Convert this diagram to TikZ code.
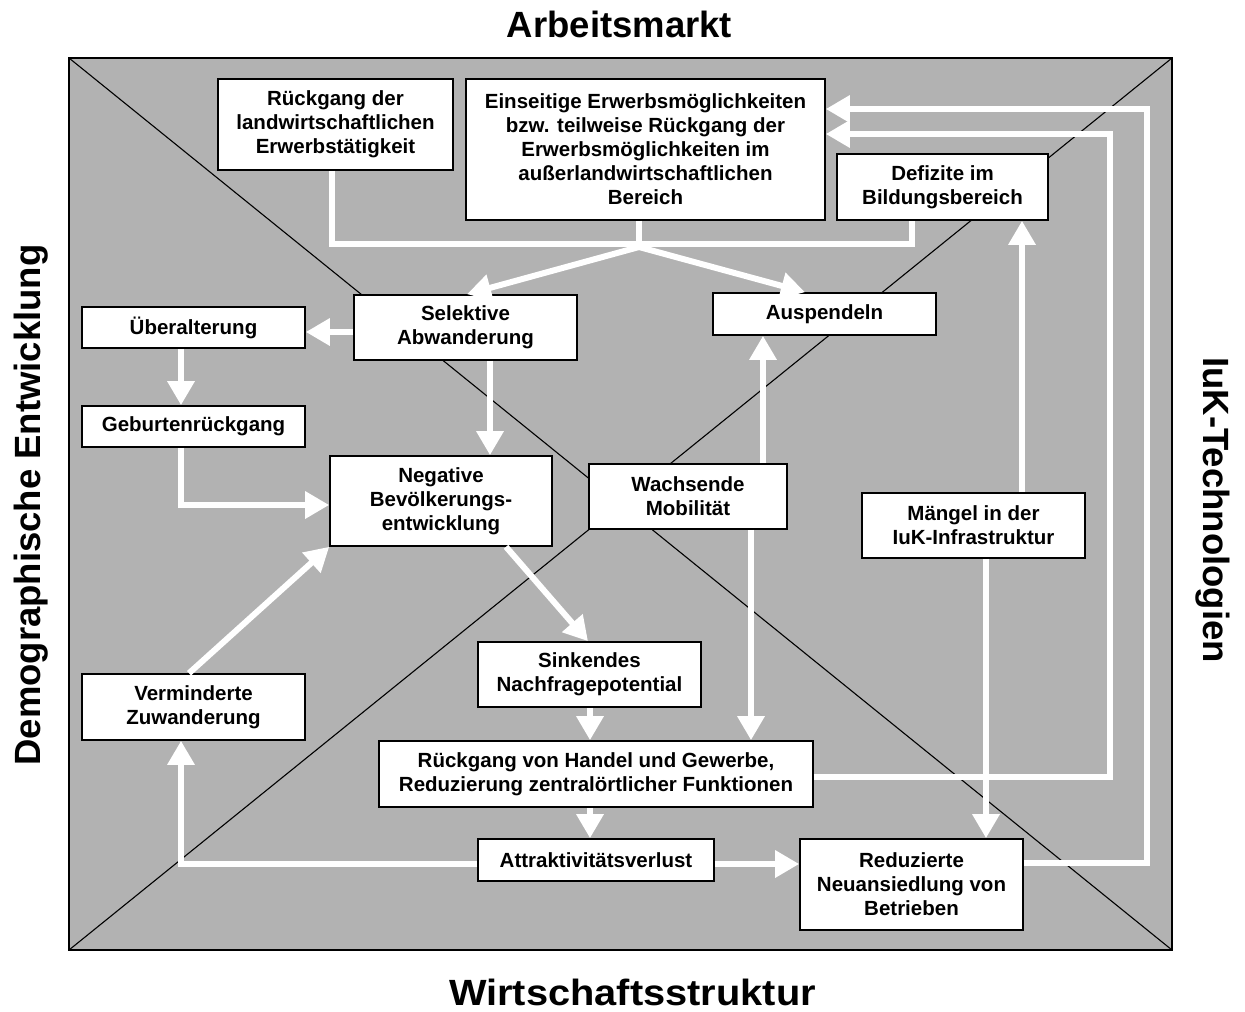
\documentclass[tikz,border=0pt]{standalone}
\usepackage{fontspec}
\setmainfont{Liberation Sans}
\usetikzlibrary{arrows.meta}
\definecolor{panel}{RGB}{178,178,178}
\tikzset{
  box/.style={draw=black, line width=1.6pt, fill=white, inner sep=0pt, align=center,
    font=\fontsize{20.5pt}{24pt}\selectfont\bfseries},
  wline/.style={draw=white, line width=6pt},
  warr/.style={wline, -{Triangle[width=26pt,length=24pt,fill=white]}},
  axis/.style={font=\fontsize{36.5pt}{40pt}\selectfont\bfseries, inner sep=0pt},
}
\begin{document}
\begin{tikzpicture}[x=1pt,y=-1pt]
\useasboundingbox (0,0) rectangle (1245,1012);
% panel with its two diagonals
\draw[fill=panel, line width=2.4pt] (69,58) rectangle (1172,950);
\draw[line width=1.1pt] (69,58) -- (1172,950);
\draw[line width=1.1pt] (69,950) -- (1172,58);
% axis titles
\node[axis, anchor=base] (tArb) at (619.5,37) {Arbeitsmarkt};
\node[axis, anchor=base] (tWir) at (632.5,1005) {\scalebox{1.09}[1]{Wirtschaftsstruktur}};
\node[axis, rotate=90] (tDem) at (31,505) {Demographische Entwicklung};
\node[axis, rotate=-90] (tIuk) at (1213,510) {IuK-Technologien};
% boxes
\node[box, minimum width=235, minimum height=91] (rlw) at (335.5,124.5) {Rückgang der\\landwirtschaftlichen\\Erwerbstätigkeit};
\node[box, minimum width=359, minimum height=141] (ein) at (645.5,149.5) {Einseitige Erwerbsmöglichkeiten\\bzw. teilweise Rückgang der\\Erwerbsmöglichkeiten im\\außerlandwirtschaftlichen\\Bereich};
\node[box, minimum width=211, minimum height=66] (def) at (942.5,187) {Defizite im\\Bildungsbereich};
\node[box, minimum width=223, minimum height=65] (sel) at (465.5,327.5) {Selektive\\Abwanderung};
\node[box, minimum width=223, minimum height=42] (aus) at (824.5,314) {Auspendeln};
\node[box, minimum width=223, minimum height=41] (ueb) at (193.5,327.5) {Überalterung};
\node[box, minimum width=223, minimum height=41] (geb) at (193.5,426.5) {Geburtenrückgang};
\node[box, minimum width=222, minimum height=90] (neg) at (441,501) {Negative\\Bevölkerungs-\\entwicklung};
\node[box, minimum width=198, minimum height=65] (mob) at (688,496.5) {Wachsende\\Mobilität};
\node[box, minimum width=223, minimum height=65] (iuk) at (973.5,525.5) {Mängel in der\\IuK-Infrastruktur};
\node[box, minimum width=223, minimum height=66] (zuw) at (193.5,707) {Verminderte\\Zuwanderung};
\node[box, minimum width=223, minimum height=65] (sink) at (589.5,674.5) {Sinkendes\\Nachfragepotential};
\node[box, minimum width=434, minimum height=66] (han) at (596,774) {Rückgang von Handel und Gewerbe,\\Reduzierung zentralörtlicher Funktionen};
\node[box, minimum width=236, minimum height=42] (att) at (596,860) {Attraktivitätsverlust};
\node[box, minimum width=223, minimum height=91] (red) at (911.5,884.5) {Reduzierte\\Neuansiedlung von\\Betrieben};
% joint of the three labour market causes
\coordinate (j) at (639,247);
\draw[wline] (332,0 |- rlw.south) -- (332,244) -- (912,244) -- (912,0 |- def.south);
\draw[wline] (639,0 |- ein.south) -- (639,247);
\draw[warr] (j) -- (467,0 |- sel.north);
\draw[warr] (j) -- (805,0 |- aus.north);
% demographic chain
\draw[warr] (sel.west |- 0,332) -- (ueb.east |- 0,332);
\draw[warr] (181,0 |- ueb.south) -- (181,0 |- geb.north);
\draw[warr] (181,0 |- geb.south) -- (181,505) -- (neg.west |- 0,505);
\draw[warr] (490,0 |- sel.south) -- (490,0 |- neg.north);
\draw[warr] (189,0 |- zuw.north) -- (neg.south west);
\draw[warr] (506,0 |- neg.south) -- (588,0 |- sink.north);
% economic chain
\draw[warr] (590,0 |- sink.south) -- (590,0 |- han.north);
\draw[warr] (590,0 |- han.south) -- (590,0 |- att.north);
\draw[warr] (att.west |- 0,864) -- (181,864) -- (181,0 |- zuw.south);
\draw[warr] (att.east |- 0,864) -- (red.west |- 0,864);
% mobility
\draw[warr] (763,0 |- mob.north) -- (763,0 |- aus.south);
\draw[warr] (751,0 |- mob.south) -- (751,0 |- han.north);
% ICT infrastructure
\draw[warr] (1022,0 |- iuk.north) -- (1022,0 |- def.south);
\draw[warr] (986,0 |- iuk.south) -- (986,0 |- red.north);
% feedback to the labour market
\draw[warr] (han.east |- 0,777) -- (1110,777) -- (1110,134) -- (ein.east |- 0,134);
\draw[warr] (red.east |- 0,863) -- (1147,863) -- (1147,109) -- (ein.east |- 0,109);
\end{tikzpicture}
\end{document}
